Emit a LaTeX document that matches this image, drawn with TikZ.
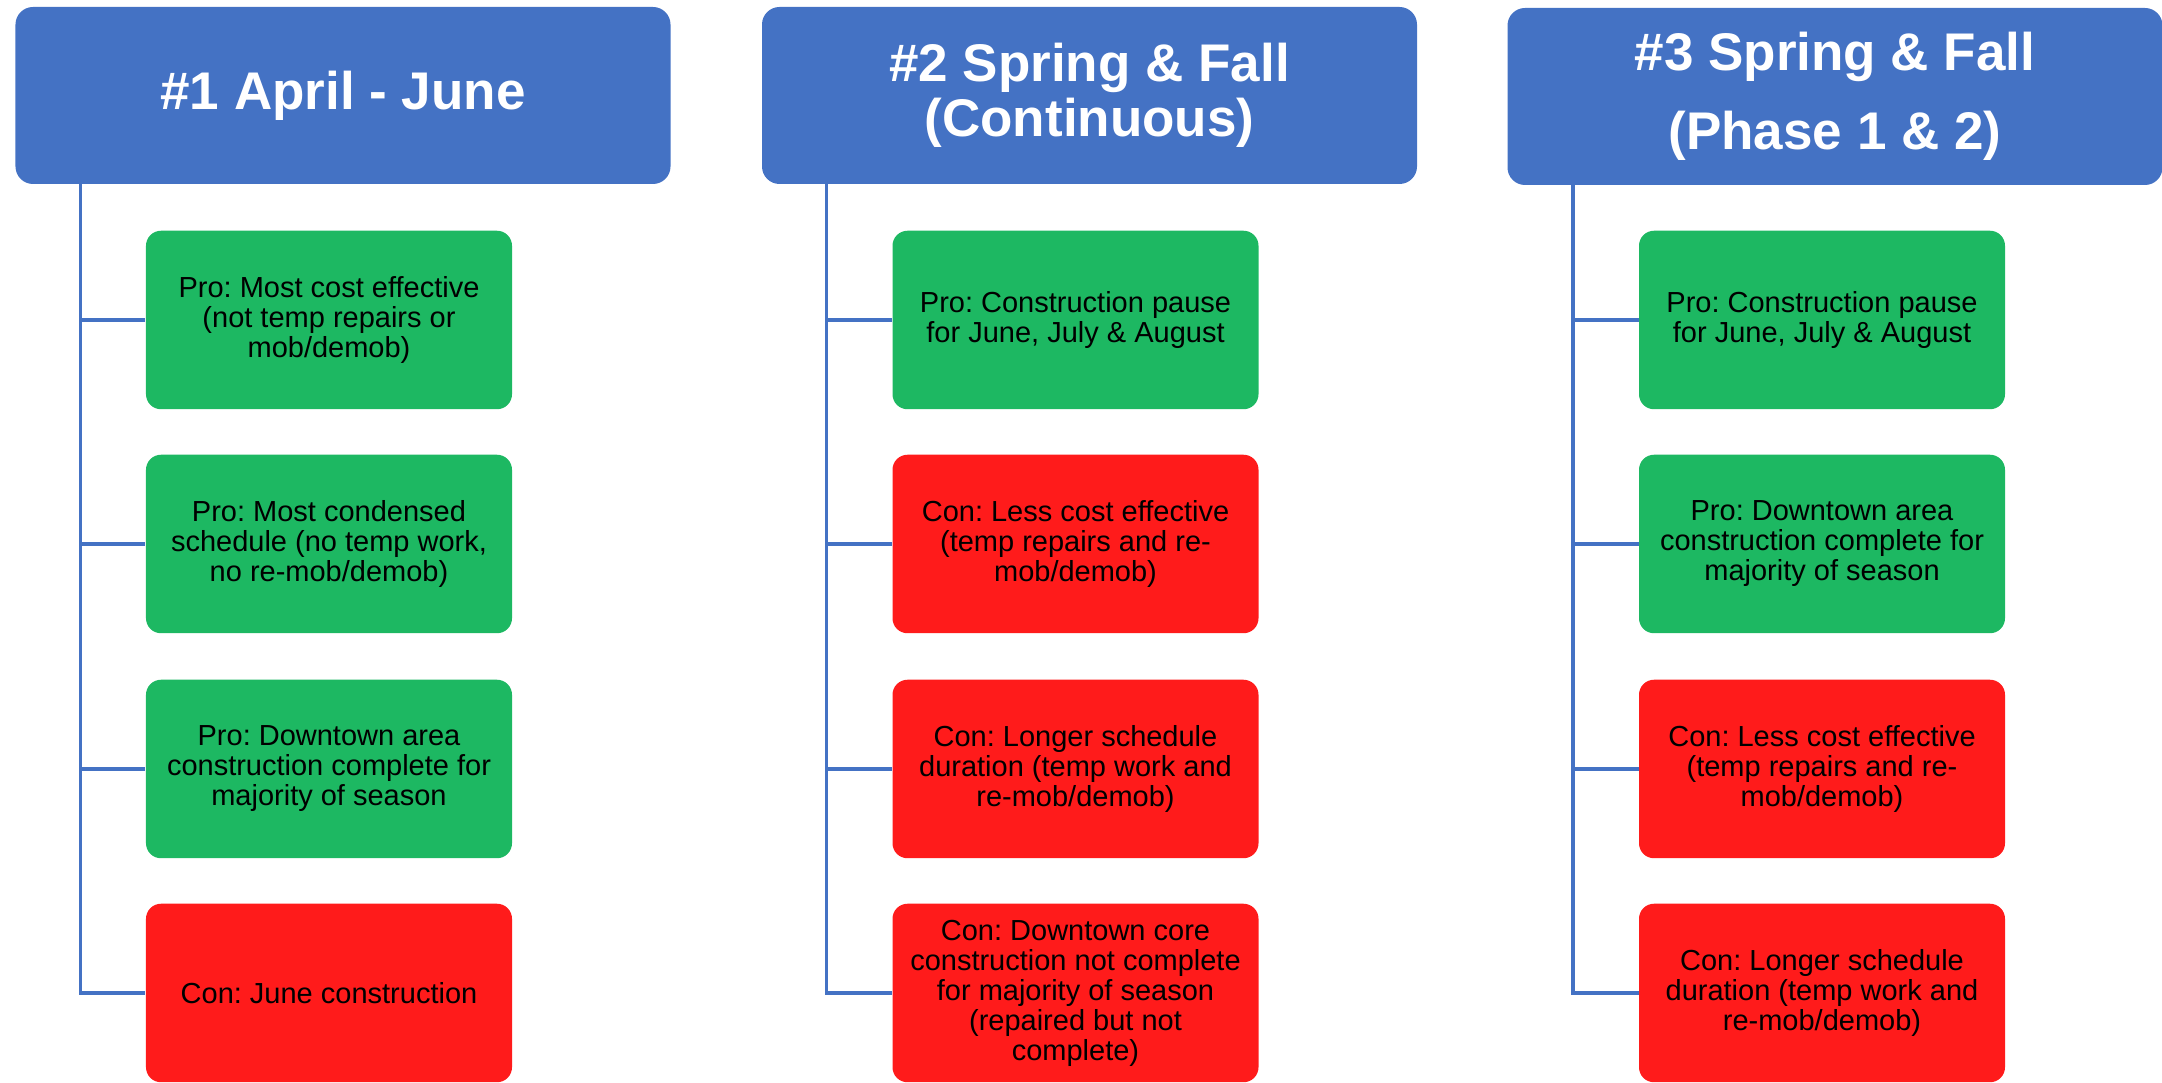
\documentclass[tikz,border=0pt]{standalone}
\usepackage{fontspec}
\setmainfont{Liberation Sans}
\frenchspacing
\definecolor{hdblue}{HTML}{4472C4}
\definecolor{progreen}{HTML}{1DB862}
\definecolor{conred}{HTML}{FF1B1B}
\begin{document}
\begin{tikzpicture}[x=0.4pt,y=-0.4pt]
    \tikzstyle{header}=[rectangle,rounded corners=7pt,fill=hdblue,text=white,inner sep=0pt,
      minimum width=262pt,minimum height=70.8pt,align=center,
      font=\bfseries\fontsize{21.2}{22}\selectfont]
    \tikzstyle{item}=[rectangle,rounded corners=6pt,inner sep=0pt,
      minimum width=146.4pt,minimum height=71.4pt,align=center,
      font=\fontsize{11.6}{12}\selectfont]
    \tikzstyle{pro}=[item,fill=progreen]
    \tikzstyle{con}=[item,fill=conred]
    \tikzstyle{trunk}=[draw=hdblue,line width=1.4pt]
    \useasboundingbox (0,0) rectangle (2162,1083);

    % header boxes
    \node[header] (H-1) at (343,95.5) {\#1 April - June};
    \node[header] (H-2) at (1089.5,95.5) {\#2 Spring \& Fall\\(Continuous)};
    \node[header] (H-3) at (1835,96.5) {\#3 Spring \& Fall\\[9.6pt](Phase 1 \& 2)};

    % option 1
    \node[pro] (B-1-1) at (329,320) {Pro: Most cost effective\\(not temp repairs or\\mob/demob)};
    \node[pro] (B-1-2) at (329,544) {Pro: Most condensed\\schedule (no temp work,\\no re-mob/demob)};
    \node[pro] (B-1-3) at (329,769) {Pro: Downtown area\\construction complete for\\majority of season};
    \node[con] (B-1-4) at (329,993) {Con: June construction};

    % option 2
    \node[pro] (B-2-1) at (1075.5,320) {Pro: Construction pause\\for June, July \& August};
    \node[con] (B-2-2) at (1075.5,544) {Con: Less cost effective\\(temp repairs and re-\\mob/demob)};
    \node[con] (B-2-3) at (1075.5,769) {Con: Longer schedule\\duration (temp work and\\re-mob/demob)};
    \node[con] (B-2-4) at (1075.5,993) {Con: Downtown core\\construction not complete\\for majority of season\\(repaired but not\\complete)};

    % option 3
    \node[pro] (B-3-1) at (1822,320) {Pro: Construction pause\\for June, July \& August};
    \node[pro] (B-3-2) at (1822,544) {Pro: Downtown area\\construction complete for\\majority of season};
    \node[con] (B-3-3) at (1822,769) {Con: Less cost effective\\(temp repairs and re-\\mob/demob)};
    \node[con] (B-3-4) at (1822,993) {Con: Longer schedule\\duration (temp work and\\re-mob/demob)};

    % trunk tops under each header
    \coordinate (T-1) at (80.5,184);
    \coordinate (T-2) at (826.5,184);
    \coordinate (T-3) at (1573,184);

    % connect every header with its boxes
    \foreach \col in {1,2,3}
    \foreach \row in {1,...,4}
    \draw[trunk] (T-\col) |- (B-\col-\row.west);
  \end{tikzpicture}
\end{document}
